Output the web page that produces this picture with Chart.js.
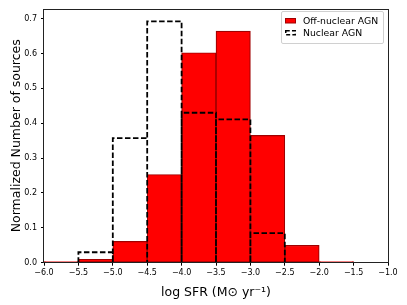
<!DOCTYPE html>
<html>
<head>
<meta charset="utf-8">
<script src="https://cdn.jsdelivr.net/npm/chart.js@4/dist/chart.umd.min.js"></script>
<style>
  html, body { margin: 0; padding: 0; background: #fff; }
  #wrap { position: relative; width: 407px; height: 305px; font-family: "DejaVu Sans", sans-serif; }
  #legend {
    position: absolute; left: 281px; top: 11px; width: 101px; height: 31px;
    border: 1px solid #d0d0d0; border-radius: 2px; background: rgba(255,255,255,0.85);
    font-size: 9.3px; color: #000;
  }
  #legend .row { position: absolute; left: 0; height: 11px; line-height: 11px; white-space: nowrap; }
  #legend .row span { position: absolute; left: 21px; top: 0; }
  #legend .swatch { position: absolute; left: 3px; top: 3px; width: 11px; height: 5.5px; }
</style>
</head>
<body>
<div id="wrap">
  <canvas id="c" width="407" height="305"></canvas>
  <div id="legend">
    <div class="row" style="top:3px">
      <svg class="swatch" viewBox="0 0 11 5.5"><rect x="0.5" y="0.5" width="10" height="4.5" fill="#ff0000" stroke="#a00000" stroke-width="1"/></svg>
      <span>Off-nuclear AGN</span>
    </div>
    <div class="row" style="top:15px">
      <svg class="swatch" viewBox="0 0 11 5.5" style="overflow:visible"><rect x="0.75" y="0.75" width="9.5" height="4" fill="none" stroke="#000" stroke-width="1.5" stroke-dasharray="4 2.2"/></svg>
      <span>Nuclear AGN</span>
    </div>
  </div>
</div>
<script>
// Histogram of log SFR for off-nuclear vs nuclear AGN, normalized counts per 0.5 dex bin.
const binEdges = [-6.0, -5.5, -5.0, -4.5, -4.0, -3.5, -3.0, -2.5, -2.0, -1.5, -1.0];
const offNuclear = [0.003, 0.010, 0.061, 0.253, 0.602, 0.664, 0.365, 0.050, 0.003, 0];
const nuclear = [0, 0.030, 0.357, 0.692, 0.430, 0.411, 0.085, 0, 0, 0];
const xTicks = [-6.0, -5.5, -5.0, -4.5, -4.0, -3.5, -3.0, -2.5, -2.0, -1.5, -1.0];
const yTicks = [0.0, 0.1, 0.2, 0.3, 0.4, 0.5, 0.6, 0.7];

const FONT = "'DejaVu Sans', sans-serif";
const minus = (s) => s.replace("-", "\u2212");

const centers = offNuclear.map((_, i) => (binEdges[i] + binEdges[i + 1]) / 2);

// nuclear histogram drawn as unfilled bars: trace each bar outline
const nuclearOutline = [];
nuclear.forEach((v, i) => {
  if (v <= 0) return;
  const l = binEdges[i], r = binEdges[i + 1];
  nuclearOutline.push({ x: l, y: 0 }, { x: l, y: v }, { x: r, y: v }, { x: r, y: 0 });
});

const frame = {
  id: "frame",
  afterDatasetsDraw(chart) {
    const { ctx, chartArea: a } = chart;
    ctx.save();
    ctx.strokeStyle = "#222";
    ctx.lineWidth = 1;
    ctx.strokeRect(Math.round(a.left) - 0.5, Math.round(a.top) + 0.5,
      Math.round(a.right - a.left) + 1, Math.round(a.bottom - a.top) - 1);
    ctx.restore();
  },
};

new Chart(document.getElementById("c"), {
  type: "bar",
  data: {
    datasets: [
      {
        type: "line",
        label: "Nuclear AGN",
        data: nuclearOutline,
        borderColor: "#000",
        borderWidth: 1.8,
        borderDash: [5.5, 2.5],
        pointRadius: 0,
        tension: 0,
        fill: false,
        order: 0,
      },
      {
        type: "bar",
        label: "Off-nuclear AGN",
        data: centers.map((x, i) => ({ x, y: offNuclear[i] })),
        backgroundColor: "#ff0000",
        borderColor: "#a00000",
        borderWidth: 1.2,
        borderSkipped: false,
        barPercentage: 1,
        categoryPercentage: 1,
        order: 1,
      },
    ],
  },
  options: {
    responsive: false,
    animation: false,
    devicePixelRatio: 1,
    layout: { padding: { left: 0, right: 19, top: 6.7, bottom: 0 } },
    plugins: { legend: { display: false }, tooltip: { enabled: false } },
    scales: {
      x: {
        type: "linear",
        min: -6,
        max: -1,
        offset: false,
        afterBuildTicks: (s) => { s.ticks = xTicks.map((v) => ({ value: v })); },
        afterFit: (s) => { s.height = 42.3; },
        ticks: {
          color: "#000",
          font: { family: FONT, size: 8 },
          padding: 2,
          maxRotation: 0,
          callback: (v) => minus(Number(v).toFixed(1)),
        },
        grid: { drawOnChartArea: false, drawTicks: true, tickLength: 3, tickColor: "#000", offset: false },
        border: { display: false },
        title: {
          display: true,
          text: "log SFR (M\u2299 yr\u207B\u00B9)",
          color: "#000",
          font: { family: FONT, size: 12.5 },
          padding: { top: 0, bottom: 4.5 },
        },
      },
      y: {
        min: 0,
        max: 0.728,
        afterBuildTicks: (s) => { s.ticks = yTicks.map((v) => ({ value: v })); },
        afterFit: (s) => { s.width = 44; },
        ticks: {
          color: "#000",
          font: { family: FONT, size: 8 },
          padding: 4,
          callback: (v) => Number(v).toFixed(1),
        },
        grid: { drawOnChartArea: false, drawTicks: true, tickLength: 3, tickColor: "#000" },
        border: { display: false },
        title: {
          display: true,
          text: "Normalized Number of sources",
          color: "#000",
          font: { family: FONT, size: 12.5 },
          padding: { top: 9, bottom: 0 },
        },
      },
    },
  },
  plugins: [frame],
});
</script>
</body>
</html>
